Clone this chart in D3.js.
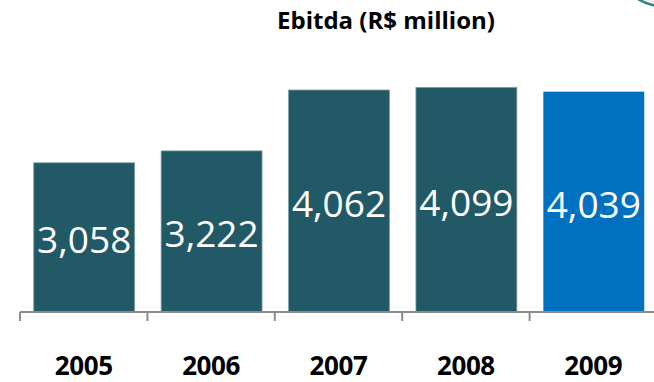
<!DOCTYPE html>
<html>
<head>
<meta charset="utf-8">
<script src="https://cdn.jsdelivr.net/npm/d3@7"></script>
<style>
  html, body { margin: 0; padding: 0; background: #fff; }
  svg { display: block; }
</style>
</head>
<body>
<svg id="chart" width="654" height="382"></svg>
<script>
const title = "Ebitda (R$ million)";
const years = ["2005", "2006", "2007", "2008", "2009"];
const ebitda = [3058, 3222, 4062, 4099, 4039];
const valueLabels = ["3,058", "3,222", "4,062", "4,099", "4,039"];
const barColors = ["#225967", "#225967", "#225967", "#225967", "#0070C0"];

const svg = d3.select("#chart");
const W = 654, H = 382;

// decorative arc (logo edge) at top right
svg.append("circle")
  .attr("cx", 668).attr("cy", -53).attr("r", 60)
  .attr("fill", "#eeeeee")
  .attr("stroke", "#1f8585").attr("stroke-width", 2.5);

const axisY = 312;
const xTicks = d3.scaleBand().domain(years).range([20, 657]).padding(0);
const x = d3.scaleBand().domain(years).range([20, 657]).paddingInner(0.2).paddingOuter(0.1);
const y = d3.scaleLinear().domain([1000, 5000]).range([axisY, 22]);

// title
svg.append("text")
  .attr("x", 386).attr("y", 29)
  .attr("text-anchor", "middle")
  .attr("font-family", "'Open Sans', sans-serif")
  .attr("font-weight", "bold")
  .attr("font-size", 24)
  .attr("fill", "#000")
  .text(title);

// bars
const data = years.map((yr, i) => ({ yr, v: ebitda[i], label: valueLabels[i], color: barColors[i] }));

svg.selectAll("rect.bar").data(data).join("rect")
  .attr("class", "bar")
  .attr("x", d => x(d.yr) + 1)
  .attr("y", d => y(d.v))
  .attr("width", x.bandwidth() - 1)
  .attr("height", d => axisY - y(d.v))
  .attr("fill", d => d.color)
  .attr("stroke", (d, i) => i < 4 ? "#7f9ea6" : "none")
  .attr("stroke-width", 0.8);

// value labels inside bars
svg.selectAll("text.val").data(data).join("text")
  .attr("class", "val")
  .attr("x", d => x(d.yr) + x.bandwidth() / 2 + 0.5)
  .attr("y", d => (y(d.v) + axisY) / 2 + 16)
  .attr("text-anchor", "middle")
  .attr("font-family", "'Open Sans', sans-serif")
  .attr("font-size", 37)
  .attr("fill", "#fff")
  .text(d => d.label);

// x axis line and ticks
const axisG = svg.append("g");
axisG.append("line")
  .attr("x1", 20).attr("x2", W)
  .attr("y1", axisY).attr("y2", axisY)
  .attr("stroke", "#8c8c8c").attr("stroke-width", 2);
const tickPos = years.map(yr => xTicks(yr));
axisG.selectAll("line.tick").data(tickPos).join("line")
  .attr("class", "tick")
  .attr("x1", d => d).attr("x2", d => d)
  .attr("y1", axisY).attr("y2", axisY + 9)
  .attr("stroke", "#8c8c8c").attr("stroke-width", 2);

// category labels
svg.selectAll("text.cat").data(years).join("text")
  .attr("class", "cat")
  .attr("x", d => xTicks(d) + xTicks.bandwidth() / 2)
  .attr("y", 375)
  .attr("text-anchor", "middle")
  .attr("font-family", "'Open Sans', sans-serif")
  .attr("font-weight", "bold")
  .attr("font-size", 26)
  .attr("letter-spacing", -0.4)
  .attr("fill", "#000")
  .text(d => d);
</script>
</body>
</html>
